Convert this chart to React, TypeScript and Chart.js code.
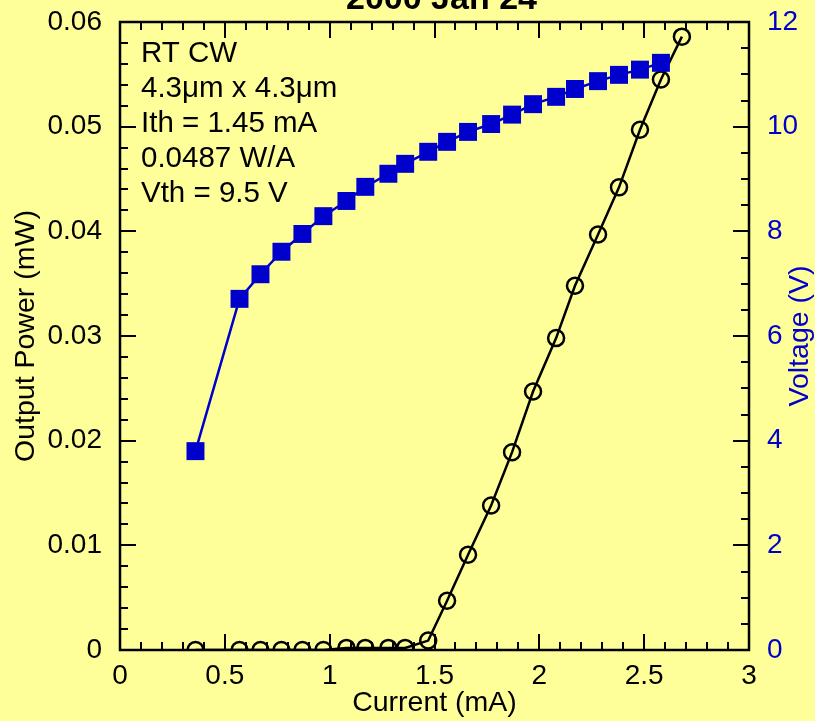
import React, { useEffect, useRef } from "react";
import { Chart, registerables } from "chart.js";

Chart.register(...registerables);

const TITLE = "2000 Jan 24";
const X_TITLE = "Current (mA)";
const Y_TITLE = "Output Power (mW)";
const Y1_TITLE = "Voltage (V)";
const NOTE_LINES = ["RT CW", "4.3μm x 4.3μm", "Ith = 1.45 mA", "0.0487 W/A", "Vth = 9.5 V"];

const CURRENT_MA = [0.36, 0.57, 0.67, 0.77, 0.87, 0.97, 1.08, 1.17, 1.28, 1.36, 1.47, 1.56, 1.66, 1.77, 1.87, 1.97, 2.08, 2.17, 2.28, 2.38, 2.48, 2.58, 2.68];
const POWER_MW = [0, 0, 0, 0, 0, 0, 0.0002, 0.0002, 0.0002, 0.0002, 0.0009, 0.0047, 0.0091, 0.0138, 0.0189, 0.0247, 0.0298, 0.0348, 0.0397, 0.0442, 0.0497, 0.0545, 0.0586];
const VOLTAGE_V = [3.8, 6.71, 7.18, 7.61, 7.95, 8.29, 8.58, 8.85, 9.1, 9.29, 9.52, 9.71, 9.9, 10.05, 10.23, 10.43, 10.57, 10.72, 10.87, 10.99, 11.09, 11.22];

const X_RANGE = [0, 3];
const Y_RANGE = [0, 0.06];
const Y1_RANGE = [0, 12];

const BG = "#FFFF99";
const BLUE = "#0000CC";
const FONT = "'Liberation Sans', Arial, Helvetica, sans-serif";

const frameAndTicks = {
  id: "frameAndTicks",
  afterDraw(chart: any) {
    const { ctx, chartArea } = chart;
    const { left, right, top, bottom } = chartArea;
    const xs = chart.scales.x;
    const ys = chart.scales.y;
    const y1 = chart.scales.y1;
    const MAJ = 16;
    const MIN = 8;
    ctx.save();
    ctx.strokeStyle = "#000";
    ctx.lineWidth = 2;
    ctx.beginPath();
    for (let i = 0; i <= 30; i++) {
      const v = i / 10;
      const px = Math.round(xs.getPixelForValue(v));
      const len = i % 5 === 0 ? MAJ : MIN;
      ctx.moveTo(px, bottom);
      ctx.lineTo(px, bottom - len);
      ctx.moveTo(px, top);
      ctx.lineTo(px, top + len);
    }
    for (let i = 0; i <= 30; i++) {
      const v = i * 0.002;
      const py = Math.round(ys.getPixelForValue(v));
      const len = i % 5 === 0 ? MAJ : MIN;
      ctx.moveTo(left, py);
      ctx.lineTo(left + len, py);
    }
    for (let i = 0; i <= 24; i++) {
      const v = i * 0.5;
      const py = Math.round(y1.getPixelForValue(v));
      const len = i % 4 === 0 ? MAJ : MIN;
      ctx.moveTo(right, py);
      ctx.lineTo(right - len, py);
    }
    ctx.stroke();
    ctx.lineWidth = 2.5;
    ctx.strokeRect(left, top, right - left, bottom - top);

    // note text
    ctx.fillStyle = "#000";
    ctx.font = `29.5px ${FONT}`;
    ctx.textAlign = "left";
    ctx.textBaseline = "alphabetic";
    NOTE_LINES.forEach((s, i) => {
      ctx.fillText(s, left + 21, top + 40 + i * 35);
    });

    // right axis title, reading bottom-to-top
    ctx.save();
    ctx.fillStyle = BLUE;
    ctx.font = `28.5px ${FONT}`;
    ctx.textAlign = "center";
    ctx.textBaseline = "middle";
    ctx.translate(right + 51, (top + bottom) / 2);
    ctx.rotate(-Math.PI / 2);
    ctx.fillText(Y1_TITLE, 0, 0);
    ctx.restore();

    // title (partly above the visible area)
    ctx.fillStyle = "#000";
    ctx.font = `bold 34px ${FONT}`;
    ctx.textAlign = "center";
    ctx.textBaseline = "alphabetic";
    ctx.fillText(TITLE, (left + right) / 2 + 7, 9);
    ctx.restore();
  },
};

const fmt = (v: any) => `${+Number(v).toFixed(4)}`;

export default function App() {
  const ref = useRef<HTMLCanvasElement | null>(null);

  useEffect(() => {
    if (!ref.current) return;
    const powerPts = POWER_MW.map((p, i) => ({ x: CURRENT_MA[i], y: p }));
    const voltPts = VOLTAGE_V.map((v, i) => ({ x: CURRENT_MA[i], y: v }));
    const chart = new Chart(ref.current, {
      type: "line",
      data: {
        datasets: [
          {
            label: "Voltage",
            data: voltPts,
            yAxisID: "y1",
            borderColor: BLUE,
            backgroundColor: BLUE,
            borderWidth: 2.5,
            pointStyle: "rect",
            pointRadius: 12.7,
            pointBorderWidth: 0,
            pointBackgroundColor: BLUE,
            tension: 0,
            order: 0,
          },
          {
            label: "Power",
            data: powerPts,
            yAxisID: "y",
            borderColor: "#000",
            backgroundColor: "rgba(0,0,0,0)",
            borderWidth: 2.5,
            pointStyle: "circle",
            pointRadius: 8,
            pointBorderWidth: 2.5,
            pointBorderColor: "#000",
            pointBackgroundColor: "rgba(0,0,0,0)",
            tension: 0,
            order: 1,
          },
        ],
      },
      options: {
        responsive: false,
        animation: false,
        events: [],
        layout: { padding: { top: 22, right: 0, left: 0, bottom: 0 } },
        plugins: {
          legend: { display: false },
          tooltip: { enabled: false },
          title: { display: false },
        },
        scales: {
          x: {
            type: "linear",
            position: "bottom",
            min: X_RANGE[0],
            max: X_RANGE[1],
            grid: { display: false, drawTicks: false },
            border: { display: false },
            ticks: { stepSize: 0.5, color: "#000", font: { size: 28, family: FONT }, padding: 9, maxRotation: 0, callback: fmt },
            title: { display: true, text: X_TITLE, color: "#000", font: { size: 28.5, family: FONT }, padding: { top: 0, bottom: 1 } },
            afterFit: (s: any) => {
              s.height = 71;
              s.paddingLeft = 0;
              s.paddingRight = 0;
            },
          },
          y: {
            type: "linear",
            position: "left",
            min: Y_RANGE[0],
            max: Y_RANGE[1],
            grid: { display: false, drawTicks: false },
            border: { display: false },
            ticks: { stepSize: 0.01, color: "#000", font: { size: 28, family: FONT }, padding: 18, callback: fmt },
            title: { display: true, text: Y_TITLE, color: "#000", font: { size: 28.5, family: FONT }, padding: { top: 9, bottom: 0 } },
            afterFit: (s: any) => {
              s.width = 120;
              s.paddingTop = 0;
              s.paddingBottom = 0;
            },
          },
          y1: {
            type: "linear",
            position: "right",
            min: Y1_RANGE[0],
            max: Y1_RANGE[1],
            grid: { display: false, drawTicks: false },
            border: { display: false },
            ticks: { stepSize: 2, color: BLUE, font: { size: 28, family: FONT }, padding: 18, callback: fmt },
            title: { display: false },
            afterFit: (s: any) => {
              s.width = 66;
              s.paddingTop = 0;
              s.paddingBottom = 0;
            },
          },
        },
      },
      plugins: [frameAndTicks],
    });
    return () => chart.destroy();
  }, []);

  return (
    <div style={{ position: "fixed", left: 0, top: 0, width: 815, height: 721, background: BG, overflow: "hidden" }}>
      <canvas ref={ref} width={815} height={721} style={{ display: "block", width: 815, height: 721 }} />
    </div>
  );
}
